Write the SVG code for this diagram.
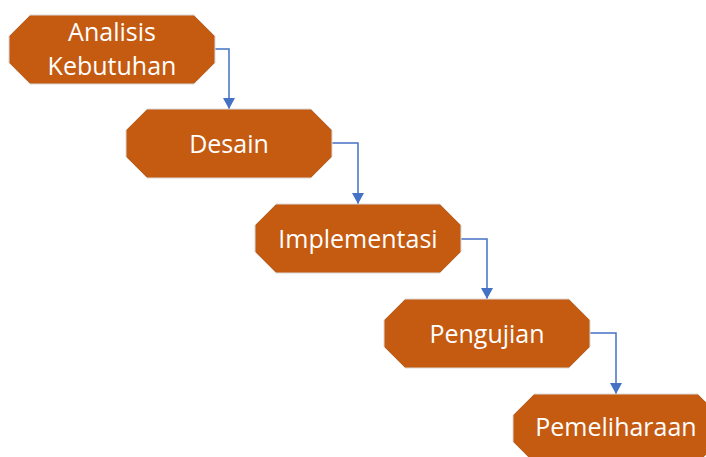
<svg xmlns="http://www.w3.org/2000/svg" width="706" height="457" viewBox="0 0 706 457">
<defs>
<style>
.node{fill:#C55A11;stroke:#D9D9D9;stroke-width:1}
.lbl{fill:#FFFFFF;font-family:"Open Sans","Liberation Sans",sans-serif;font-size:25px;text-anchor:middle}
.conn{fill:none;stroke:#4472C4;stroke-width:1.5}
</style>
<marker id="arr" markerWidth="12" markerHeight="12" refX="11" refY="6" orient="auto" markerUnits="userSpaceOnUse">
<path d="M0,0 L11,6 L0,12 Z" fill="#4472C4"/>
</marker>
<polygon id="oct" points="21,0 185,0 206,21 206,48 185,69 21,69 0,48 0,21"/>
</defs>
<rect width="706" height="457" fill="#FFFFFF"/>
<g id="connectors">
<path class="conn" d="M215,49 H229 V109" marker-end="url(#arr)"/>
<path class="conn" d="M332,143 H358 V204" marker-end="url(#arr)"/>
<path class="conn" d="M461,239 H487 V299" marker-end="url(#arr)"/>
<path class="conn" d="M590,333 H616 V394" marker-end="url(#arr)"/>
</g>
<g id="n1"><use href="#oct" class="node" x="9" y="15"/><text class="lbl" x="112" y="41">Analisis</text><text class="lbl" x="112" y="75">Kebutuhan</text></g>
<g id="n2"><use href="#oct" class="node" x="126" y="109"/><text class="lbl" x="229" y="153">Desain</text></g>
<g id="n3"><use href="#oct" class="node" x="255" y="204"/><text class="lbl" x="358" y="248">Implementasi</text></g>
<g id="n4"><use href="#oct" class="node" x="384" y="299"/><text class="lbl" x="487" y="343">Pengujian</text></g>
<g id="n5"><use href="#oct" class="node" x="513" y="394"/><text class="lbl" x="616" y="436">Pemeliharaan</text></g>
</svg>
